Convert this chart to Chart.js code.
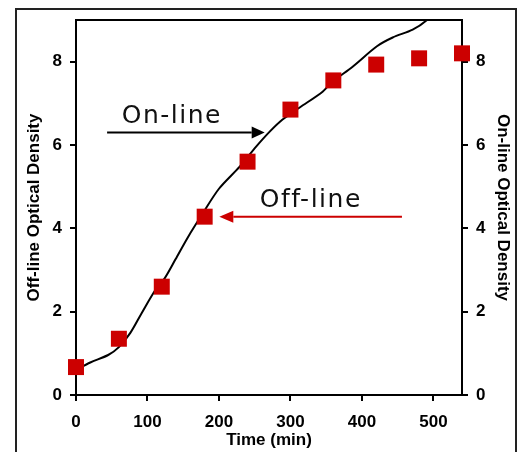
<!DOCTYPE html>
<html>
<head>
<meta charset="utf-8">
<script src="https://cdn.jsdelivr.net/npm/chart.js@4.4.1/dist/chart.umd.min.js"></script>
<style>
  html, body { margin: 0; padding: 0; background: #fff; }
  #wrap { position: relative; width: 517px; height: 452px; }
</style>
</head>
<body>
<div id="wrap"><canvas id="chart" width="517" height="452"></canvas></div>
<script>
// off-line samples (red squares)
const offlineTimes = [0, 60, 120, 180, 240, 300, 360, 420, 480, 540];
const offlineOD = [0.67, 1.35, 2.6, 4.28, 5.6, 6.85, 7.55, 7.93, 8.08, 8.2];

// on-line trace (black line)
const onlineTimes = [0, 20, 45, 60, 76, 92, 111, 124, 139, 157, 177, 200, 229, 252, 271, 289, 313, 345, 359, 387, 421, 443, 471, 491, 505];
const onlineOD = [0.6, 0.78, 0.96, 1.15, 1.49, 1.97, 2.52, 2.8, 3.25, 3.8, 4.35, 4.95, 5.48, 5.96, 6.32, 6.61, 6.9, 7.28, 7.52, 7.88, 8.37, 8.58, 8.77, 9.0, 9.3];

const xTicks = [0, 100, 200, 300, 400, 500];
const yTicks = [0, 2, 4, 6, 8];

const RED = "#cc0000";
const tickFont = { family: "'Liberation Sans', Arial, sans-serif", size: 17, weight: "bold" };
const titleFont = { family: "'Liberation Sans', Arial, sans-serif", size: 17, weight: "bold" };
const noteFont = "25px 'DejaVu Sans', Verdana, sans-serif";

function pts(xs, ys) {
  return xs.map((x, i) => ({ x, y: ys[i] }));
}

function fixedTicks(values) {
  return (scale) => {
    scale.ticks = values.map((v) => ({ value: v }));
  };
}

function arrow(ctx, x1, y1, x2, y2, color, headLen, headHalf) {
  const ang = Math.atan2(y2 - y1, x2 - x1);
  ctx.save();
  ctx.strokeStyle = color;
  ctx.fillStyle = color;
  ctx.lineWidth = 2;
  ctx.beginPath();
  ctx.moveTo(x1, y1);
  ctx.lineTo(x2 - Math.cos(ang) * headLen, y2 - Math.sin(ang) * headLen);
  ctx.stroke();
  ctx.translate(x2, y2);
  ctx.rotate(ang);
  ctx.beginPath();
  ctx.moveTo(0, 0);
  ctx.lineTo(-headLen, -headHalf);
  ctx.lineTo(-headLen, headHalf);
  ctx.closePath();
  ctx.fill();
  ctx.restore();
}

const frame = {
  id: "frame",
  beforeDraw(chart) {
    const ctx = chart.ctx;
    ctx.save();
    ctx.strokeStyle = "#222";
    ctx.lineWidth = 2;
    ctx.strokeRect(16, 9, 500, 470);
    const a = chart.chartArea;
    ctx.strokeStyle = "#000";
    ctx.beginPath();
    ctx.moveTo(a.left, a.top);
    ctx.lineTo(a.right, a.top);
    ctx.stroke();
    ctx.restore();
  }
};

const notes = {
  id: "notes",
  afterDatasetsDraw(chart) {
    const ctx = chart.ctx;
    const x = chart.scales.x;
    const y = chart.scales.y;
    ctx.save();
    ctx.font = noteFont;
    ctx.letterSpacing = "1.5px";
    ctx.textBaseline = "alphabetic";
    ctx.fillStyle = "#111";
    ctx.fillText("On-line", x.getPixelForValue(64), y.getPixelForValue(6.54));
    ctx.fillText("Off-line", x.getPixelForValue(257), y.getPixelForValue(4.52));
    ctx.letterSpacing = "0px";
    arrow(ctx, x.getPixelForValue(43.5), y.getPixelForValue(6.3), x.getPixelForValue(264), y.getPixelForValue(6.3), "#000", 13, 6);
    arrow(ctx, x.getPixelForValue(456), y.getPixelForValue(4.28), x.getPixelForValue(200.5), y.getPixelForValue(4.28), RED, 14, 6);
    ctx.restore();
  }
};

new Chart(document.getElementById("chart"), {
  type: "scatter",
  data: {
    datasets: [
      {
        label: "On-line",
        data: pts(onlineTimes, onlineOD),
        showLine: true,
        yAxisID: "y2",
        borderColor: "#000",
        borderWidth: 2,
        pointRadius: 0,
        tension: 0.3,
        order: 2
      },
      {
        label: "Off-line",
        data: pts(offlineTimes, offlineOD),
        yAxisID: "y",
        pointStyle: "rect",
        pointRadius: 11.3,
        pointBackgroundColor: RED,
        pointBorderWidth: 0,
        clip: false,
        order: 1
      }
    ]
  },
  options: {
    responsive: false,
    animation: false,
    layout: { padding: { top: 20, left: 0, right: 0, bottom: 0 } },
    plugins: { legend: { display: false }, tooltip: { enabled: false } },
    scales: {
      x: {
        type: "linear",
        min: 0,
        max: 540,
        afterBuildTicks: fixedTicks(xTicks),
        afterFit: (s) => { s.height = 57; },
        grid: { drawOnChartArea: false, drawTicks: true, tickLength: 6, color: "#000", lineWidth: 2 },
        border: { display: true, color: "#000", width: 2 },
        ticks: { color: "#000", font: tickFont, padding: 11, maxRotation: 0 },
        title: { display: true, text: "Time (min)", color: "#000", font: titleFont, padding: { top: 0, bottom: 1 } }
      },
      y: {
        type: "linear",
        position: "left",
        min: 0,
        max: 9,
        afterBuildTicks: fixedTicks(yTicks),
        afterFit: (s) => { s.width = 76; },
        grid: { drawOnChartArea: false, drawTicks: true, tickLength: 6, color: "#000", lineWidth: 2 },
        border: { display: true, color: "#000", width: 2 },
        ticks: { color: "#000", font: tickFont, padding: 8 },
        title: { display: true, text: "Off-line Optical Density", color: "#000", font: titleFont, padding: { top: 24, bottom: 0 } }
      },
      y2: {
        type: "linear",
        position: "right",
        min: 0,
        max: 9,
        afterBuildTicks: fixedTicks(yTicks),
        afterFit: (s) => { s.width = 55; },
        grid: { drawOnChartArea: false, drawTicks: true, tickLength: 6, color: "#000", lineWidth: 2 },
        border: { display: true, color: "#000", width: 2 },
        ticks: { color: "#000", font: tickFont, padding: 8 },
        title: { display: true, text: "On-line Optical Density", color: "#000", font: titleFont, padding: { top: 4, bottom: 0 } }
      }
    }
  },
  plugins: [frame, notes]
});
</script>
</body>
</html>
